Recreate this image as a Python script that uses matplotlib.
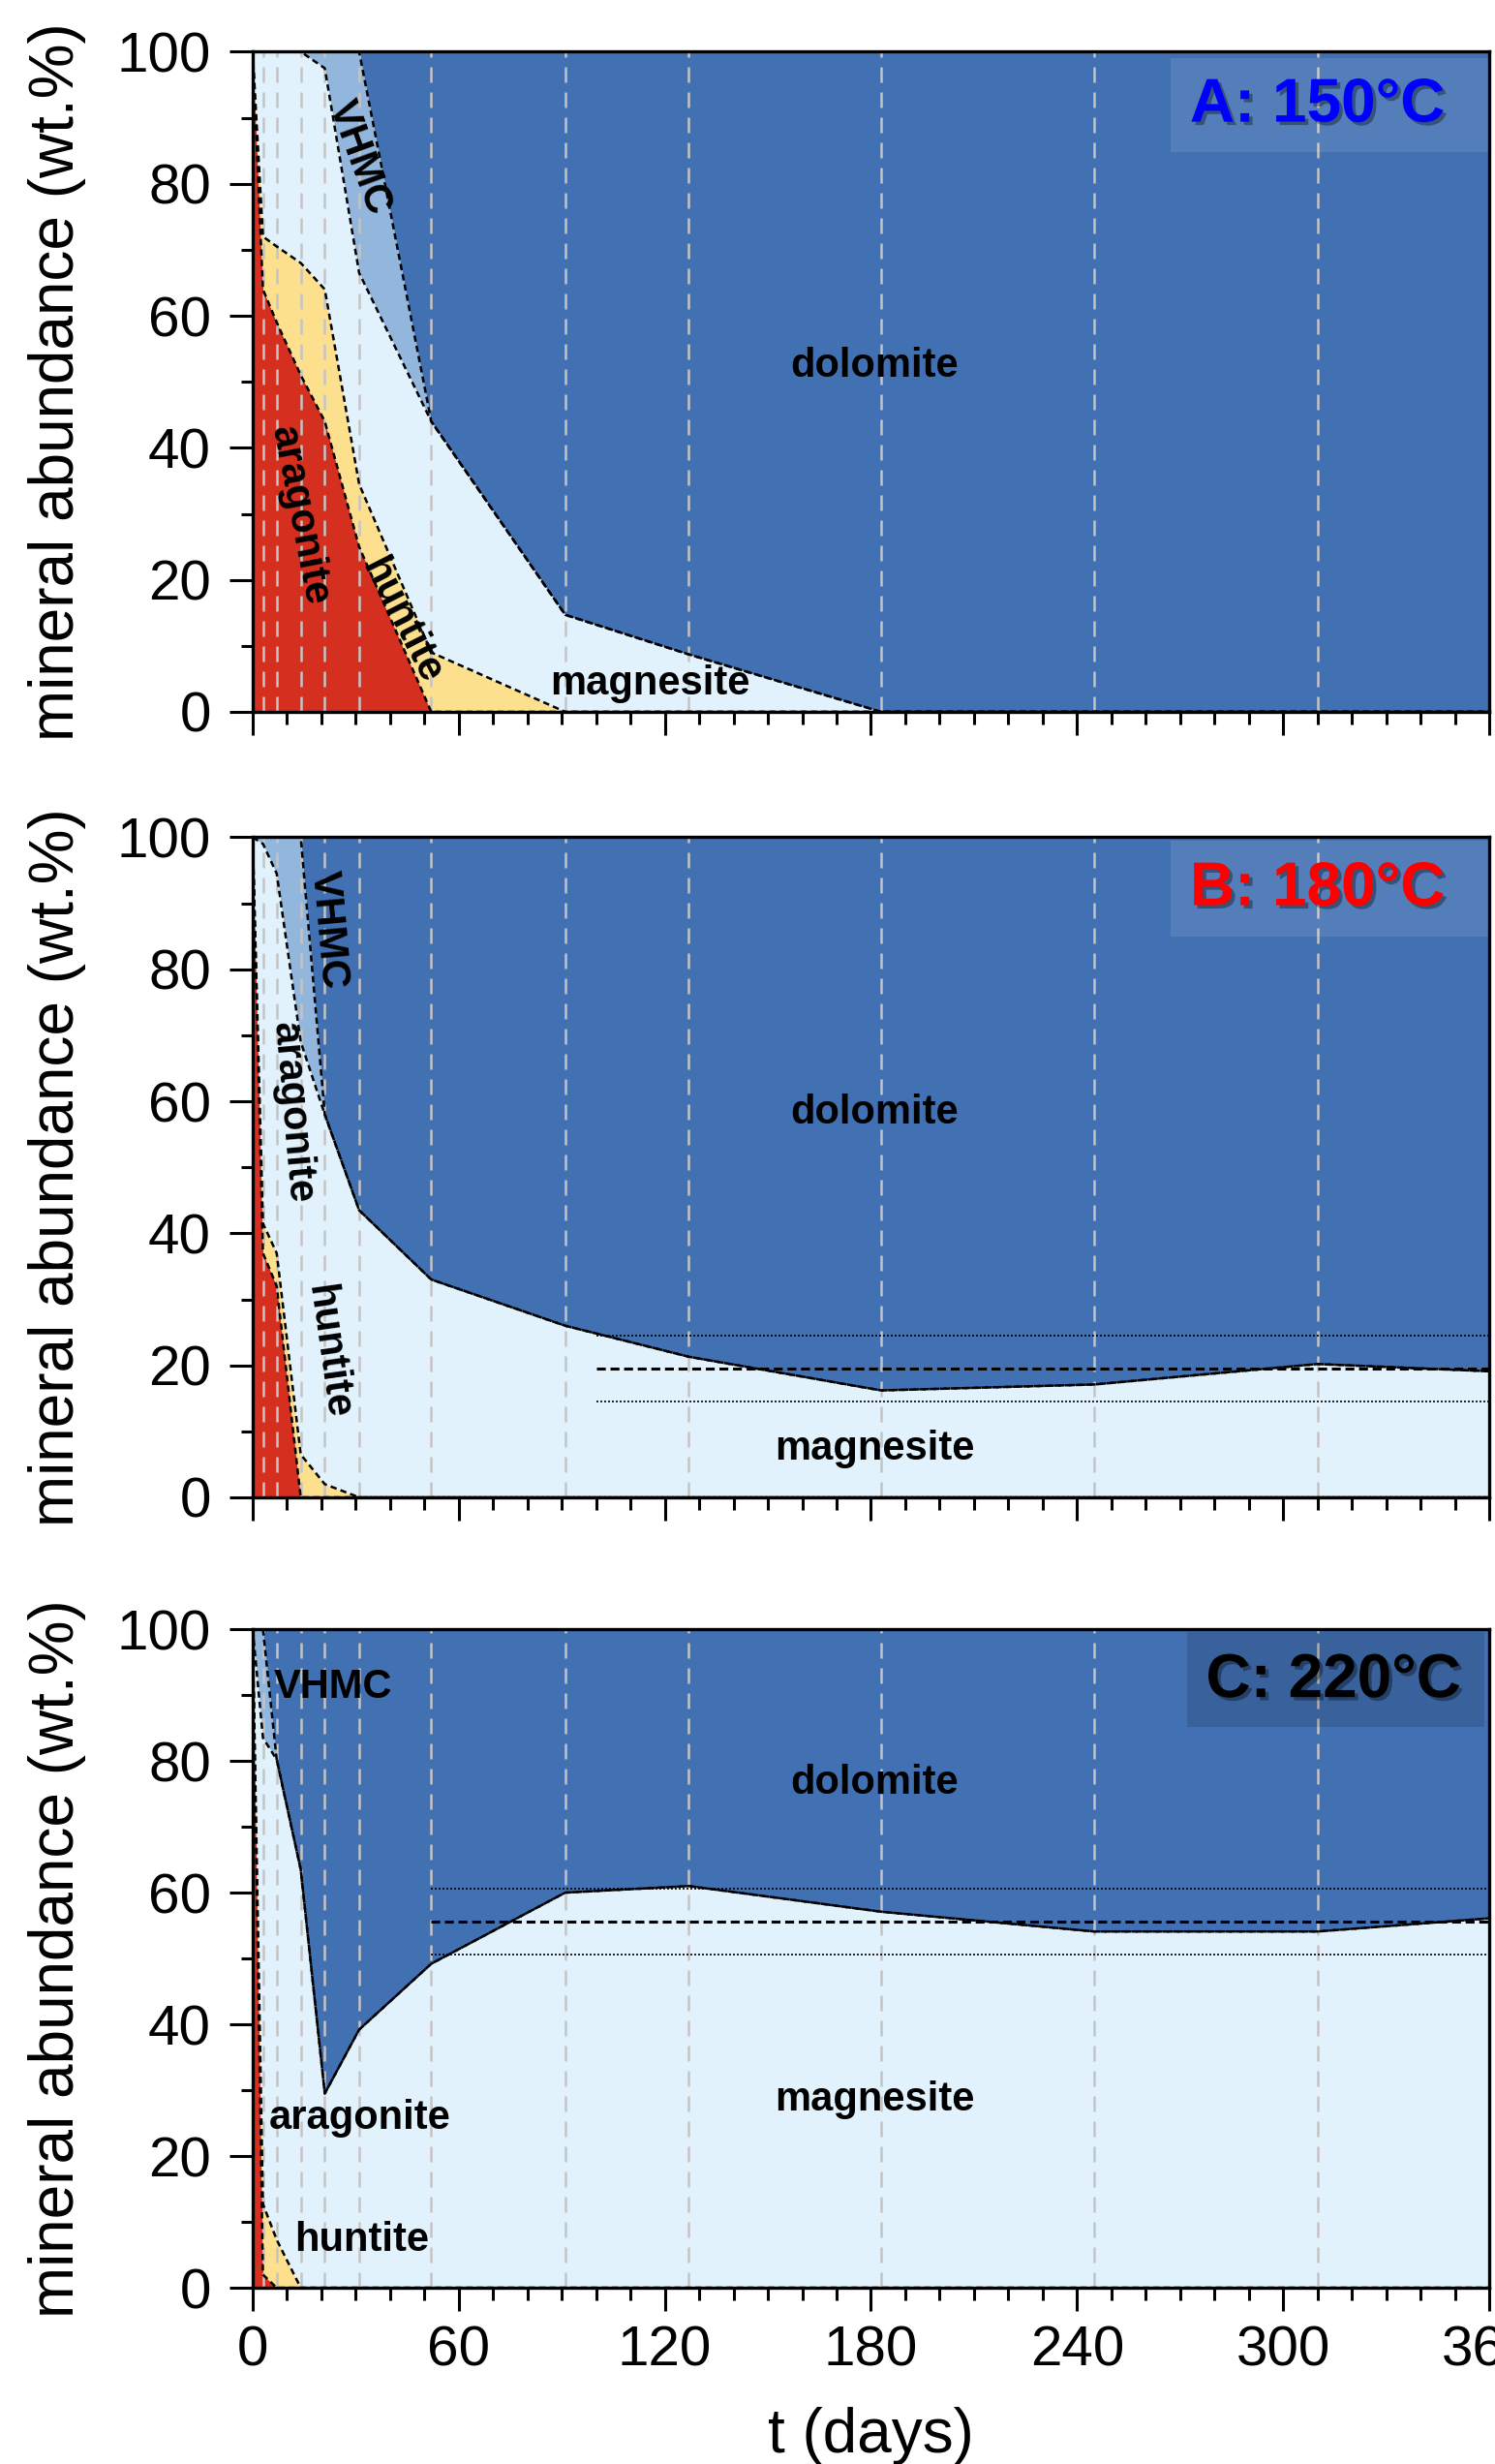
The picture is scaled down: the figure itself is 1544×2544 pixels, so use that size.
import matplotlib
matplotlib.use('Agg')
import matplotlib.pyplot as plt
from matplotlib.ticker import MultipleLocator
from matplotlib.patches import Rectangle
import matplotlib.patheffects as pe
import numpy as np

plt.rcParams['font.family'] = ['Liberation Sans', 'DejaVu Sans']

# sampling times (days)
days = [0, 3, 7, 14, 21, 31, 52, 91, 127, 183, 245, 310, 360]
minerals = ['aragonite', 'huntite', 'magnesite', 'VHMC', 'dolomite']

# Panel A: 150 °C (wt.%)
a_aragonite = [100, 64, 59, 51, 44, 25, 0, 0, 0, 0, 0, 0, 0]
a_huntite   = [0, 8, 11.5, 17, 20, 9.5, 9, 0, 0, 0, 0, 0, 0]
a_magnesite = [0, 28, 29.5, 32, 33.5, 32, 35, 14.7, 8.7, 0, 0, 0, 0]
a_vhmc      = [0, 0, 0, 0, 2.5, 33.5, 0, 0, 0, 0, 0, 0, 0]
a_dolomite  = [0, 0, 0, 0, 0, 0, 56, 85.3, 91.3, 100, 100, 100, 100]

# Panel B: 180 °C
b_aragonite = [100, 37, 32, 0, 0, 0, 0, 0, 0, 0, 0, 0, 0]
b_huntite   = [0, 4.5, 5, 6.5, 2, 0, 0, 0, 0, 0, 0, 0, 0]
b_magnesite = [0, 57.5, 57.5, 62.5, 56, 43.5, 33, 26, 21.3, 16.2, 17.1, 20.2, 19.1]
b_vhmc      = [0, 1, 5.5, 31, 0, 0, 0, 0, 0, 0, 0, 0, 0]
b_dolomite  = [0, 0, 0, 0, 42, 56.5, 67, 74, 78.7, 83.8, 82.9, 79.8, 80.9]

# Panel C: 220 °C
c_aragonite = [100, 2, 0, 0, 0, 0, 0, 0, 0, 0, 0, 0, 0]
c_huntite   = [0, 10.7, 7.3, 0, 0, 0, 0, 0, 0, 0, 0, 0, 0]
c_magnesite = [0, 70.8, 72.9, 63.5, 29.5, 39.2, 49.2, 60, 61, 57.1, 54.1, 54.1, 56.1]
c_vhmc      = [0, 16.5, 0, 0, 0, 0, 0, 0, 0, 0, 0, 0, 0]
c_dolomite  = [0, 0, 19.8, 36.5, 70.5, 60.8, 50.8, 40, 39, 42.9, 45.9, 45.9, 43.9]

# steady-state magnesite level (mean, mean +/- spread) and start day
b_ref = [19.5, 24.5, 14.5]
b_ref_start = 100
c_ref = [55.6, 60.6, 50.6]
c_ref_start = 52

panel_titles = ['A: 150°C', 'B: 180°C', 'C: 220°C']
title_colors = ['#0000FF', '#FF0000', '#000000']

colors = ['#D42F1F', '#FDE08E', '#E2F2FC', '#92B6DC', '#4170B3']

panels = [
    [a_aragonite, a_huntite, a_magnesite, a_vhmc, a_dolomite],
    [b_aragonite, b_huntite, b_magnesite, b_vhmc, b_dolomite],
    [c_aragonite, c_huntite, c_magnesite, c_vhmc, c_dolomite],
]

labels = [
    [('VHMC', 31, 84, -70, 'center'), ('aragonite', 13.7, 29.8, -79, 'center'),
     ('huntite', 43.4, 13.8, -63, 'center'), ('dolomite', 181, 52.4, 0, 'center'),
     ('magnesite', 115.6, 4.2, 0, 'center')],
    [('VHMC', 21.9, 86, -85, 'center'), ('aragonite', 11.4, 58.3, -85, 'center'),
     ('huntite', 21.9, 22.1, -82, 'center'), ('dolomite', 181, 58.3, 0, 'center'),
     ('magnesite', 181, 7.4, 0, 'center')],
    [('VHMC', 6, 91.2, 0, 'left'), ('dolomite', 181, 76.6, 0, 'center'),
     ('aragonite', 4.6, 25.8, 0, 'left'), ('huntite', 12.3, 7.2, 0, 'left'),
     ('magnesite', 181, 28.6, 0, 'center')],
]

box_specs = [((0.742, 0.848), 0.258, 0.142, 'white', 0.10),
             ((0.742, 0.849), 0.258, 0.146, 'white', 0.10),
             ((0.756, 0.852), 0.240, 0.144, 'black', 0.12)]
title_pos = [(0.861, 0.919), (0.861, 0.922), (0.874, 0.922)]

fig = plt.figure(figsize=(15.44, 25.44), dpi=100)
ax_rects = [[0.169, 0.7111, 0.8271, 0.2679],
            [0.169, 0.3923, 0.8271, 0.2679],
            [0.169, 0.0715, 0.8271, 0.2673]]

t = np.array(days, dtype=float)
for i, (rect, comps) in enumerate(zip(ax_rects, panels)):
    ax = fig.add_axes(rect)
    cum = np.zeros_like(t)
    tops = []
    for comp, col in zip(comps, colors):
        top = cum + np.array(comp, dtype=float)
        ax.fill_between(t, cum, top, color=col, linewidth=0, zorder=1)
        tops.append(top)
        cum = top
    # sampling-day grid lines
    for d in days[1:-1]:
        ax.axvline(d, color='#C4C4C4', lw=1.8, ls=(0, (6.4, 4)), zorder=2)
    # boundaries between phases
    for top in tops[:-1]:
        ax.plot(t, top, color='black', lw=1.8, ls=(0, (2.6, 1.7)), zorder=3)
    # reference lines
    if i == 1:
        ref, start = b_ref, b_ref_start
    elif i == 2:
        ref, start = c_ref, c_ref_start
    else:
        ref = None
    if ref is not None:
        ax.hlines(ref[0], start, 360, color='black', lw=2.2, linestyles=(0, (3, 1.6)), zorder=3)
        ax.hlines(ref[1:], start, 360, color='black', lw=1.2, linestyles=(0, (1.2, 1.2)), zorder=3)

    for txt, x, y, rot, ha in labels[i]:
        ax.text(x, y, txt, fontsize=30, fontweight='bold', rotation=rot,
                ha=ha, va='center', zorder=5)

    (bx, by), bw, bh, bc, ba = box_specs[i]
    ax.add_patch(Rectangle((bx, by), bw, bh, transform=ax.transAxes,
                           facecolor=bc, alpha=ba, edgecolor='none', zorder=4))
    tx, ty = title_pos[i]
    ax.text(tx, ty, panel_titles[i], transform=ax.transAxes, fontsize=46,
            fontweight='bold', color=title_colors[i], ha='center', va='center',
            zorder=6,
            path_effects=[pe.withSimplePatchShadow(offset=(2.5, -2.5),
                                                   shadow_rgbFace='black', alpha=0.35)])

    ax.set_xlim(0, 360)
    ax.set_ylim(0, 100)
    ax.xaxis.set_major_locator(MultipleLocator(60))
    ax.xaxis.set_minor_locator(MultipleLocator(10))
    ax.yaxis.set_major_locator(MultipleLocator(20))
    ax.yaxis.set_minor_locator(MultipleLocator(10))
    ax.tick_params(which='both', direction='out', width=2.2, top=False, right=False)
    ax.tick_params(which='major', length=17, labelsize=42)
    ax.tick_params(which='minor', length=9)
    ax.tick_params(axis='y', which='major', pad=14)
    ax.tick_params(axis='x', which='major', pad=11)
    for sp in ax.spines.values():
        sp.set_linewidth(2.4)
        sp.set_zorder(7)
    if i < 2:
        ax.set_xticklabels([])
    else:
        ax.set_xlabel('t (days)', fontsize=46)
        ax.xaxis.set_label_coords(0.5, -0.18)
    ax.set_ylabel('mineral abundance (wt.%)', fontsize=46)
    ax.yaxis.set_label_coords(-0.135, 0.5)

fig.savefig('out.png', dpi=100)
